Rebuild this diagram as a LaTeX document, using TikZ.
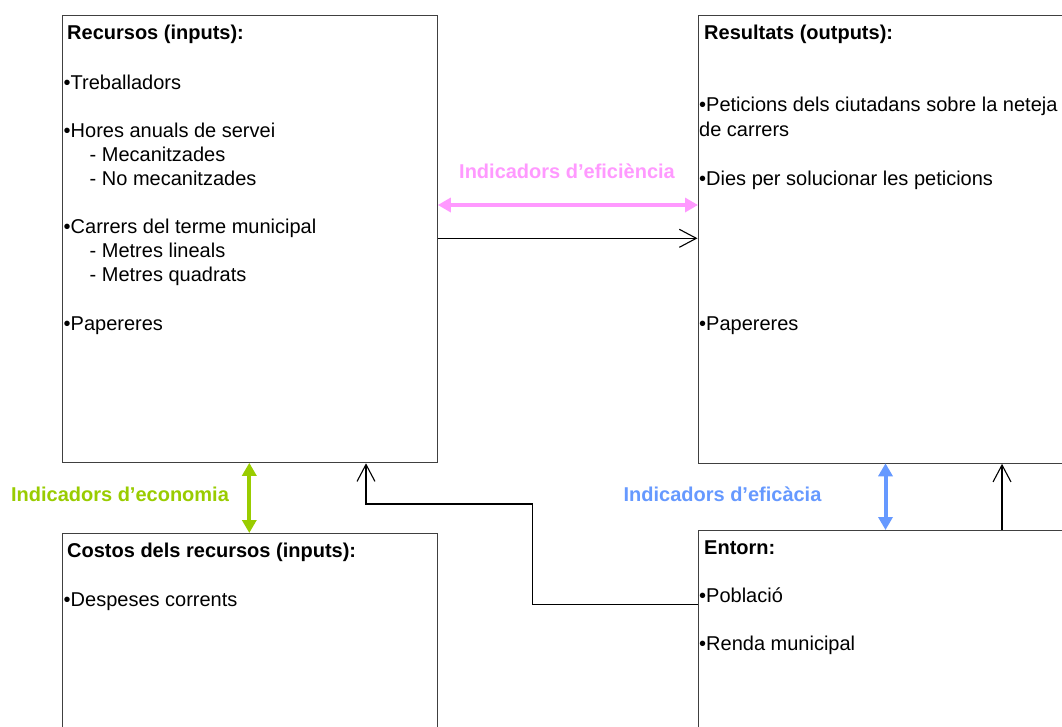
\documentclass[tikz,border=0pt]{standalone}
\usepackage{fontspec}
\setmainfont{Liberation Sans}
\usetikzlibrary{arrows.meta}
\definecolor{pinkc}{HTML}{FF99FF}
\definecolor{greenc}{HTML}{99CC00}
\definecolor{bluec}{HTML}{6699FF}
\definecolor{boxgray}{HTML}{404040}
\begin{document}
\begin{tikzpicture}[x=1pt,y=-1pt,
  box/.style={draw=boxgray, line width=1.3pt, anchor=north west, inner sep=0pt},
  txt/.style={anchor=base west, inner sep=0pt, font=\fontsize{20}{24}\selectfont},
  ttl/.style={anchor=base west, inner sep=0pt, font=\fontsize{20}{24}\selectfont\bfseries},
  lbl/.style={anchor=base, inner sep=0pt, font=\fontsize{20}{24}\selectfont\bfseries},
  conn/.style={draw=black, line width=1.1pt, -{Straight Barb[length=17pt,width=18pt,line width=1.1pt]}},
  dbl/.style={line width=4pt, {Triangle[length=13pt,width=14pt]}-{Triangle[length=13pt,width=14pt]}, shorten <=-0.5pt, shorten >=-0.5pt}]
\clip (0,0) rectangle (1062,726);
\fill[white] (0,0) rectangle (1062,726);
% boxes
\node[box, minimum width=375pt, minimum height=447pt] (rec) at (62,15) {};
\node[box, minimum width=430pt, minimum height=448pt] (res) at (697.5,14.5) {};
\node[box, minimum width=375pt, minimum height=230pt] (cos) at (62,532.5) {};
\node[box, minimum width=430pt, minimum height=230pt] (ent) at (697.5,529.5) {};
% Recursos text
\node[ttl] (r0) at (67,39.5) {Recursos (inputs):};
\node[txt] (r1) at (63.5,89) {•Treballadors};
\node[txt] (r2) at (63.5,137.5) {•Hores anuals de servei};
\node[txt] (r3) at (89.5,161.5) {- Mecanitzades};
\node[txt] (r4) at (89.5,185) {- No mecanitzades};
\node[txt] (r5) at (63.5,233.5) {•Carrers del terme municipal};
\node[txt] (r6) at (89.5,257.5) {- Metres lineals};
\node[txt] (r7) at (89.5,281.5) {- Metres quadrats};
\node[txt] (r8) at (63.5,330.5) {•Papereres};
% Resultats text
\node[ttl] (s0) at (704,39.5) {Resultats (outputs):};
\node[txt] (s1) at (699,111.7) {•Peticions dels ciutadans sobre la neteja};
\node[txt] (s2) at (699,136) {de carrers};
\node[txt] (s3) at (699,185) {•Dies per solucionar les peticions};
\node[txt] (s4) at (699,330.5) {•Papereres};
% Costos text
\node[ttl] (c0) at (67,557.5) {Costos dels recursos (inputs):};
\node[txt] (c1) at (63.5,606.5) {•Despeses corrents};
% Entorn text
\node[ttl] (e0) at (704,554) {Entorn:};
\node[txt] (e1) at (699,602.5) {•Població};
\node[txt] (e2) at (699,650.5) {•Renda municipal};
% labels
\node[lbl, text=pinkc] (l1) at (567,178.3) {Indicadors d’eficiència};
\node[lbl, text=greenc] (l2) at (120,501.7) {Indicadors d’economia};
\node[lbl, text=bluec] (l3) at (722.5,501.7) {Indicadors d’eficàcia};
% connectors
\draw[dbl, pinkc] (rec.east |- 0,205) -- (res.west |- 0,205);
\draw[conn] (rec.east |- 0,238.3) -- (res.west |- 0,238.3);
\draw[dbl, greenc] (rec.south -| 249.3,0) -- (cos.north -| 249.3,0);
\draw[dbl, bluec] (res.south -| 885.5,0) -- (ent.north -| 885.5,0);
\draw[conn] (ent.north -| 1002,0) -- (res.south -| 1002,0);
\draw[conn] (ent.west |- 0,604.5) -| (532.5,504) -| (rec.south -| 366,0);
\end{tikzpicture}
\end{document}
